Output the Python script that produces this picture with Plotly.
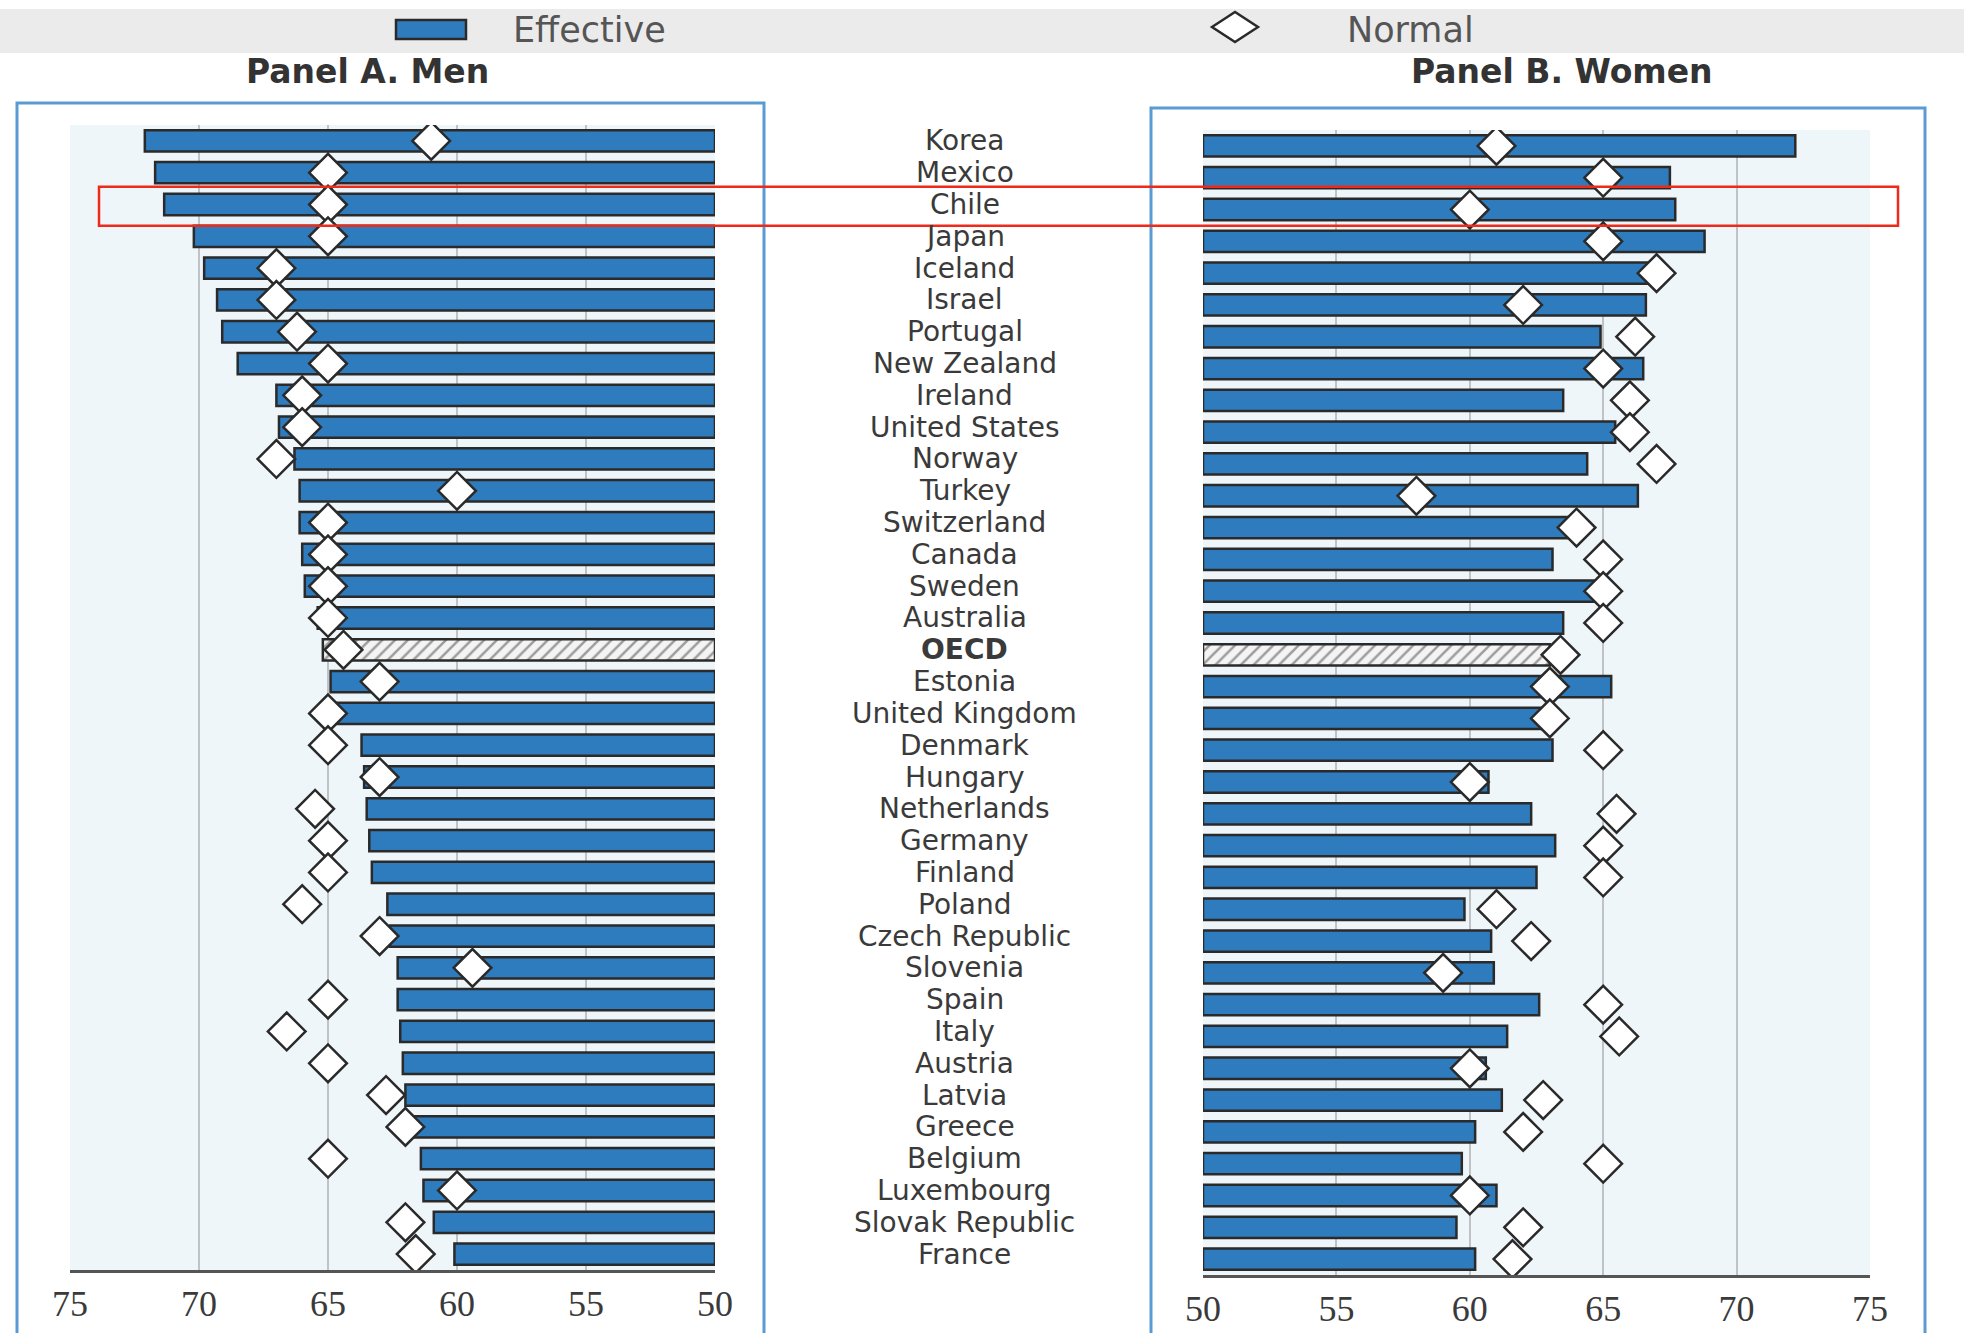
import plotly.graph_objects as go

# ---------------- data ----------------
countries = ["Korea", "Mexico", "Chile", "Japan", "Iceland", "Israel", "Portugal",
             "New Zealand", "Ireland", "United States", "Norway", "Turkey",
             "Switzerland", "Canada", "Sweden", "Australia", "OECD", "Estonia",
             "United Kingdom", "Denmark", "Hungary", "Netherlands", "Germany",
             "Finland", "Poland", "Czech Republic", "Slovenia", "Spain", "Italy",
             "Austria", "Latvia", "Greece", "Belgium", "Luxembourg",
             "Slovak Republic", "France"]

men_effective = [72.1, 71.7, 71.35, 70.2, 69.8, 69.3, 69.1, 68.5, 67.0, 66.9, 66.3, 66.1,
                 66.1, 66.0, 65.9, 65.4, 65.2, 64.9, 64.7, 63.7, 63.6, 63.5, 63.4,
                 63.3, 62.7, 62.6, 62.3, 62.3, 62.2, 62.1, 62.0, 61.8, 61.4, 61.3,
                 60.9, 60.1]
men_normal = [61, 65, 65, 65, 67, 67, 66.2, 65, 66, 66, 67, 60,
              65, 65, 65, 65, 64.4, 63, 65, 65, 63, 65.5, 65,
              65, 66, 63, 59.4, 65, 66.6, 65, 62.75, 62, 65, 60,
              62, 61.6]

women_effective = [72.2, 67.5, 67.7, 68.8, 66.7, 66.6, 64.9, 66.5, 63.5, 65.45, 64.4, 66.3,
                   63.7, 63.1, 64.8, 63.5, 63.0, 65.3, 62.7, 63.1, 60.7, 62.3, 63.2,
                   62.5, 59.8, 60.8, 60.9, 62.6, 61.4, 60.6, 61.2, 60.2, 59.7, 61.0,
                   59.5, 60.2]
women_normal = [61, 65, 60, 65, 67, 62, 66.2, 65, 66, 66, 67, 58,
                64, 65, 65, 65, 63.4, 63, 63, 65, 60, 65.5, 65,
                65, 61, 62.3, 59, 65, 65.6, 60, 62.75, 62, 65, 60,
                62, 61.6]

x_ticks = [50, 55, 60, 65, 70, 75]
panel_titles = ["Panel A. Men", "Panel B. Women"]
legend_labels = ["Effective", "Normal"]
highlight_country = "Chile"

# ---------------- styling ----------------
W, H = 1964, 1333


def px(x):
    return x / W


def py(y):
    return 1 - y / H


BLUE = "#2e7cbe"
EDGE = "#2a2a2a"
GRID = "#c0c3c6"
PLOTBG = "#eff6fa"
FRAME = "#5b9bd3"
TEXT = "#3a3a3a"

bar_colors = ["#f4f4f4" if c == "OECD" else BLUE for c in countries]
bar_patterns = ["/" if c == "OECD" else "" for c in countries]

fig = go.Figure()


def add_panel(eff, norm, xa, ya):
    fig.add_trace(go.Bar(
        y=countries, x=[v - 50 for v in eff], base=50, orientation="h",
        xaxis=xa, yaxis=ya, width=0.67, name=legend_labels[0], showlegend=False,
        marker=dict(color=bar_colors, line=dict(color=EDGE, width=2.5),
                    pattern=dict(shape=bar_patterns, fgcolor="#505050", size=9,
                                 solidity=0.28)),
    ))
    fig.add_trace(go.Scatter(
        y=countries, x=norm, mode="markers", xaxis=xa, yaxis=ya,
        name=legend_labels[1], showlegend=False,
        marker=dict(symbol="diamond", size=29, color="white",
                    line=dict(color=EDGE, width=2.5)),
    ))


add_panel(men_effective, men_normal, "x", "y")
add_panel(women_effective, women_normal, "x2", "y2")

xcommon = dict(tickvals=x_ticks, showgrid=True, gridcolor=GRID, gridwidth=1.5,
               zeroline=False, showline=True, linecolor="#555555", linewidth=3,
               ticks="", ticklabelstandoff=0, automargin=False,
               tickfont=dict(family="Liberation Serif", size=36, color=TEXT))
ycommon = dict(type="category", categoryorder="array", categoryarray=countries,
               range=[len(countries) - 0.5, -0.5], showticklabels=False,
               showgrid=False, zeroline=False, showline=False, ticks="",
               automargin=False)

fig.update_layout(
    width=W, height=H, autosize=False,
    margin=dict(l=0, r=0, t=0, b=0, pad=0, autoexpand=False),
    paper_bgcolor="white", plot_bgcolor=PLOTBG, showlegend=False,
    xaxis=dict(domain=[px(70), px(715)], range=[75, 50], anchor="y", **xcommon),
    yaxis=dict(domain=[py(1270), py(125)], anchor="x", **ycommon),
    xaxis2=dict(domain=[px(1203), px(1870)], range=[50, 75], anchor="y2", **xcommon),
    yaxis2=dict(domain=[py(1275), py(130)], anchor="x2", **ycommon),
)

shapes = [
    # legend band
    dict(type="rect", xref="paper", yref="paper", x0=0, x1=1, y0=py(53), y1=py(9),
         fillcolor="#ebebeb", line=dict(width=0), layer="below"),
    # legend glyph: bar
    dict(type="rect", xref="paper", yref="paper", x0=px(396), x1=px(466),
         y0=py(39), y1=py(20), fillcolor=BLUE, line=dict(color=EDGE, width=2.5)),
    # legend glyph: diamond
    dict(type="path", xref="paper", yref="paper",
         path=f"M {px(1212)},{py(27)} L {px(1235)},{py(12)} L {px(1258)},{py(27)} "
              f"L {px(1235)},{py(42)} Z",
         fillcolor="white", line=dict(color=EDGE, width=2.5)),
    # panel frames
    dict(type="rect", xref="paper", yref="paper", x0=px(17), x1=px(764),
         y0=-0.05, y1=py(103), line=dict(color=FRAME, width=3), layer="below"),
    dict(type="rect", xref="paper", yref="paper", x0=px(1151), x1=px(1925),
         y0=-0.05, y1=py(108), line=dict(color=FRAME, width=3), layer="below"),
]
# highlight box round the Chile row
hi = countries.index(highlight_country)
shapes.append(dict(type="rect", xref="paper", yref="y", x0=px(99), x1=px(1898),
                   y0=hi - 0.56, y1=hi + 0.67, line=dict(color="#ee2b1a", width=2.5),
                   fillcolor="rgba(0,0,0,0)", layer="above"))
fig.update_layout(shapes=shapes)

annotations = [
    dict(text=legend_labels[0], xref="paper", yref="paper", x=px(511), y=py(30),
         xanchor="left", yanchor="middle", showarrow=False,
         font=dict(family="DejaVu Sans", size=35, color="#555555")),
    dict(text=legend_labels[1], xref="paper", yref="paper", x=px(1345), y=py(30),
         xanchor="left", yanchor="middle", showarrow=False,
         font=dict(family="DejaVu Sans", size=35, color="#555555")),
    dict(text=f"<b>{panel_titles[0]}</b>", xref="paper", yref="paper", x=px(367),
         y=py(71), xanchor="center", yanchor="middle", showarrow=False,
         font=dict(family="DejaVu Sans", size=33, color="#333333")),
    dict(text=f"<b>{panel_titles[1]}</b>", xref="paper", yref="paper", x=px(1562),
         y=py(71), xanchor="center", yanchor="middle", showarrow=False,
         font=dict(family="DejaVu Sans", size=33, color="#333333")),
]
for c in countries:
    annotations.append(dict(
        text=f"<b>{c}</b>" if c == "OECD" else c, xref="paper", yref="y",
        x=px(964.5), y=c, xanchor="center", yanchor="middle", showarrow=False,
        font=dict(family="DejaVu Sans", size=28, color=TEXT)))
fig.update_layout(annotations=annotations)

fig.write_html("out.html", config={"displayModeBar": False, "responsive": False},
               post_script="document.body.style.margin='0';")
